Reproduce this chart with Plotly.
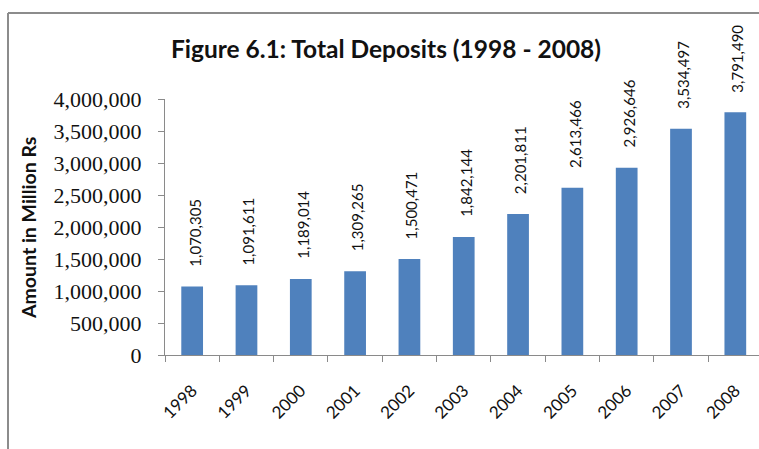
import plotly.graph_objects as go

# Total deposits by year (Million Rs)
years = ["1998", "1999", "2000", "2001", "2002", "2003", "2004", "2005", "2006", "2007", "2008"]
deposits = [1070305, 1091611, 1189014, 1309265, 1500471, 1842144, 2201811, 2613466, 2926646, 3534497, 3791490]
y_ticks = [0, 500000, 1000000, 1500000, 2000000, 2500000, 3000000, 3500000, 4000000]
y_tick_text = [f"{v:,}" for v in y_ticks]

BAR_COLOR = "#4F81BD"
AXIS_COLOR = "#8a8a8a"
SANS = "Lato, 'Open Sans', sans-serif"
SERIF = "'Liberation Serif', 'DejaVu Serif', serif"

fig = go.Figure()
fig.add_trace(go.Bar(
    x=years,
    y=deposits,
    marker=dict(color=BAR_COLOR, line=dict(width=0)),
    width=0.4,
    hoverinfo="x+y",
))

# Value labels above each bar, rotated to read bottom-to-top
# (category index used as x so numeric-looking year names are not taken as positions)
for i, val in enumerate(deposits):
    fig.add_annotation(
        x=i, y=val, xref="x", yref="y",
        text=f"{val:,}",
        textangle=-90,
        showarrow=False,
        xanchor="center", yanchor="bottom",
        yshift=18, xshift=2,
        font=dict(family=SANS, size=15, color="#111111"),
    )

# Y-axis title
fig.add_annotation(
    x=(28 - 165) / 594, y=(355 - 228) / 256, xref="paper", yref="paper",
    text="<b>Amount in Million Rs</b>", textangle=-90, showarrow=False,
    xanchor="center", yanchor="middle",
    font=dict(family=SANS, size=19.5, color="#111111"),
)

# Outer chart frame (left and top edges)
fig.add_shape(type="line", xref="paper", yref="paper",
              x0=(8 - 165) / 594, x1=(8 - 165) / 594, y0=(355 - 13) / 256, y1=(355 - 470) / 256,
              line=dict(color="#8c8c8c", width=2))
fig.add_shape(type="line", xref="paper", yref="paper",
              x0=(8 - 165) / 594, x1=(780 - 165) / 594, y0=(355 - 13) / 256, y1=(355 - 13) / 256,
              line=dict(color="#8c8c8c", width=2))

fig.update_layout(
    width=759, height=449,
    margin=dict(l=165, r=0, t=99, b=94, autoexpand=False),
    paper_bgcolor="white", plot_bgcolor="white",
    showlegend=False,
    title=dict(
        text="<b>Figure 6.1: Total Deposits (1998 - 2008)</b>",
        x=386 / 759, xanchor="center", xref="container",
        y=1 - 49 / 449, yanchor="middle", yref="container",
        font=dict(family=SANS, size=24.5, color="#111111"),
    ),
    xaxis=dict(
        type="category",
        range=[-0.5, 10.436],
        showgrid=False,
        showline=True, linecolor=AXIS_COLOR, linewidth=1,
        ticks="outside", tickson="boundaries", ticklen=6, tickcolor=AXIS_COLOR,
        tickangle=-45,
        ticklabelstandoff=18,
        tickfont=dict(family=SANS, size=17, color="#111111"),
        automargin=False,
    ),
    yaxis=dict(
        range=[0, 4000000],
        tickvals=y_ticks, ticktext=y_tick_text,
        showgrid=False, zeroline=False,
        showline=True, linecolor=AXIS_COLOR, linewidth=1,
        ticks="outside", ticklen=6, tickcolor=AXIS_COLOR,
        ticklabelstandoff=12,
        tickfont=dict(family=SERIF, size=22, color="#111111"),
        automargin=False,
    ),
)

fig.write_html("out.html")
